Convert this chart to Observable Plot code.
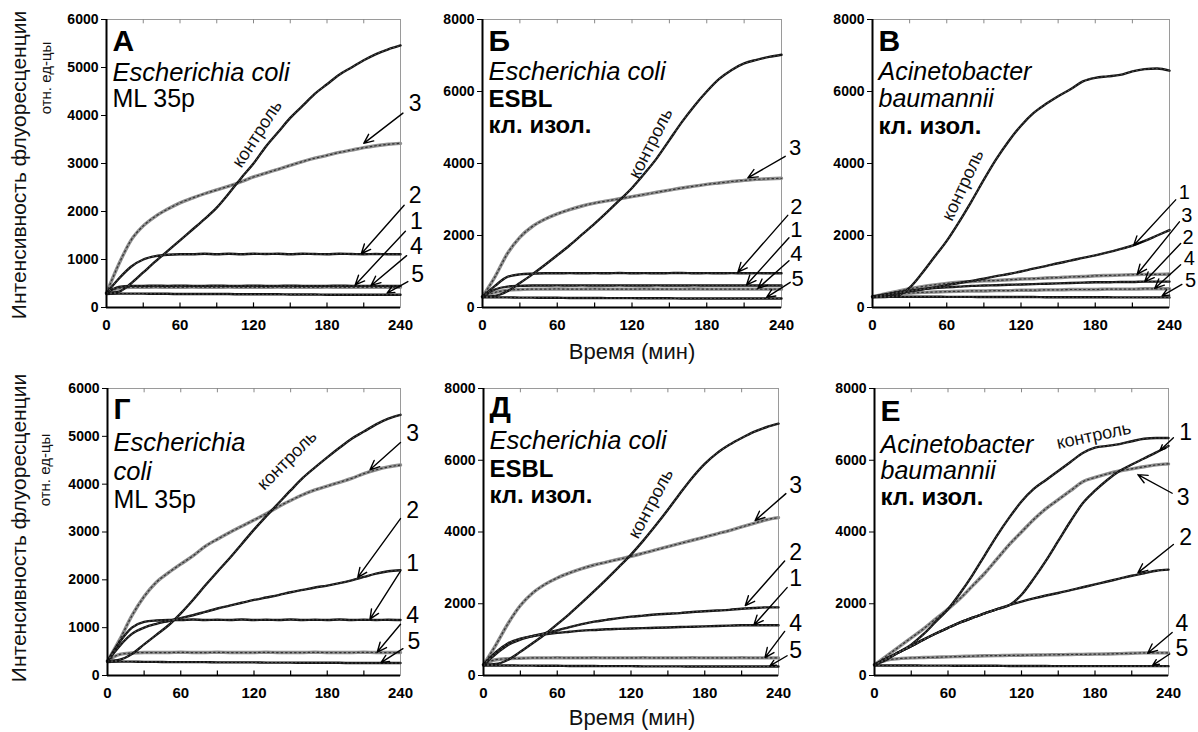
<!DOCTYPE html>
<html><head><meta charset="utf-8">
<script src="https://cdn.jsdelivr.net/npm/d3@7"></script>
<script src="https://cdn.jsdelivr.net/npm/@observablehq/plot@0.6"></script>
<style>
html,body{margin:0;padding:0;background:#fff;overflow:hidden;}
#root{position:relative;width:1198px;height:732px;overflow:hidden;font-family:"Liberation Sans",Arial,sans-serif;color:#111;}
.panel{position:absolute;}
.ytitle{position:absolute;transform:translate(-50%,-50%) rotate(-90deg);white-space:nowrap;}
.xtitle{position:absolute;transform:translate(-50%,-50%);white-space:nowrap;font-size:22px;}
</style></head><body><div id="root"></div>
<script>
// ---- data (time in minutes, fluorescence in rel. units) ----
const time = [0,10,20,30,40,50,60,70,80,90,100,110,120,130,140,150,160,170,180,190,200,210,220,230,240];

// Panel А
const ctrlA = [300,330,500,730,960,1180,1400,1620,1840,2080,2380,2700,3000,3350,3650,3950,4200,4450,4650,4850,5000,5150,5280,5380,5460];
const s1A = [300,430,450,450,455,450,455,450,450,455,450,450,455,450,450,455,450,450,450,455,450,450,450,450,450];
const s2A = [300,600,850,1000,1070,1100,1110,1110,1120,1110,1120,1110,1120,1115,1120,1110,1120,1115,1110,1120,1115,1110,1115,1110,1110];
const s3A = [300,900,1400,1700,1900,2050,2180,2280,2370,2450,2530,2620,2720,2800,2880,2960,3040,3110,3170,3230,3280,3330,3370,3400,3420];
const s4A = [300,400,420,420,425,420,420,425,420,420,425,420,420,420,425,420,420,420,425,420,420,420,420,420,420];
const s5A = [280,290,290,290,285,285,280,280,280,280,280,275,275,275,275,270,270,270,265,265,265,265,265,265,265];

// Panel Б
const ctrlB = [300,320,450,680,920,1180,1450,1730,2030,2330,2650,2980,3320,3720,4150,4650,5150,5600,6000,6350,6600,6780,6880,6960,7020];
const s1B = [300,500,580,600,610,610,615,610,615,610,610,615,610,610,615,610,610,615,610,610,610,610,610,610,610];
const s2B = [300,600,850,920,940,950,950,955,950,955,950,960,950,955,950,955,960,950,955,950,955,950,955,950,950];
const s3B = [300,850,1500,1950,2250,2450,2600,2720,2820,2900,2960,3020,3080,3140,3200,3260,3320,3370,3420,3460,3500,3530,3560,3575,3590];
const s4B = [300,420,480,500,510,510,515,510,510,515,510,510,510,515,510,510,510,515,510,510,510,510,510,510,510];
const s5B = [280,280,280,275,275,270,270,265,265,265,260,260,260,255,255,255,250,250,250,250,250,250,250,250,250];

// Panel В
const ctrlV = [300,300,330,550,950,1400,1850,2380,2950,3550,4120,4620,5050,5400,5650,5870,6060,6280,6380,6420,6460,6560,6620,6640,6580];
const s1V = [300,340,400,450,500,560,620,680,740,800,870,930,1000,1080,1150,1230,1300,1380,1450,1530,1620,1720,1850,2000,2150];
const s2V = [300,360,420,470,510,540,560,580,600,610,620,630,640,650,660,670,680,690,700,700,710,710,720,720,720];
const s3V = [300,380,450,520,580,630,670,700,720,740,750,770,790,800,820,830,850,860,880,890,900,910,920,920,930];
const s4V = [300,340,380,400,420,430,440,450,460,460,470,470,480,480,490,490,500,500,500,510,510,510,520,520,520];
const s5V = [280,290,300,300,300,300,295,295,295,290,290,290,290,290,285,285,285,285,285,285,280,280,280,280,280];

// Panel Г
const ctrlG = [300,330,450,650,850,1050,1300,1580,1880,2170,2450,2750,3050,3330,3600,3870,4130,4350,4560,4760,4950,5100,5250,5370,5450];
const s1G = [300,700,1000,1120,1150,1160,1160,1170,1160,1165,1160,1170,1160,1165,1160,1170,1160,1165,1160,1170,1160,1165,1160,1165,1160];
const s2G = [300,620,870,1000,1080,1140,1200,1260,1330,1400,1460,1520,1580,1630,1680,1740,1790,1840,1880,1930,1990,2060,2130,2180,2200];
const s3G = [300,750,1250,1650,1950,2150,2330,2500,2700,2850,2990,3120,3250,3380,3530,3660,3780,3880,3960,4040,4120,4220,4300,4360,4400];
const s4G = [300,440,470,480,480,480,485,480,480,485,480,480,480,485,480,480,480,485,480,480,480,485,480,480,480];
const s5G = [280,290,290,285,285,280,280,280,280,275,275,275,275,270,270,270,265,265,265,265,260,260,260,260,260];

// Panel Д
const ctrlD = [300,320,440,660,900,1150,1430,1720,2030,2350,2680,3020,3370,3760,4180,4620,5080,5520,5900,6200,6430,6620,6790,6920,7020];
const s1D = [300,650,900,1030,1100,1150,1190,1220,1250,1270,1290,1300,1310,1320,1330,1340,1350,1360,1370,1380,1390,1400,1400,1400,1400];
const s2D = [300,600,850,1000,1100,1180,1260,1350,1430,1500,1550,1600,1640,1670,1700,1720,1740,1770,1790,1810,1830,1860,1880,1900,1900];
const s3D = [300,850,1450,1950,2300,2540,2720,2860,2980,3080,3160,3240,3320,3410,3500,3590,3680,3770,3860,3950,4040,4140,4240,4340,4400];
const s4D = [300,440,470,480,490,490,495,490,490,495,490,490,490,495,490,490,490,495,490,490,490,495,490,490,490];
const s5D = [280,280,280,275,275,270,270,265,265,265,260,260,260,255,255,255,255,250,250,250,250,250,250,250,250];

// Panel Е
const ctrlE = [300,450,650,860,1150,1500,1850,2300,2800,3350,3900,4400,4850,5200,5450,5700,5950,6200,6350,6400,6450,6530,6600,6620,6620];
const s1E = [300,480,650,820,1000,1170,1330,1480,1610,1730,1850,1960,2250,2700,3200,3750,4300,4800,5150,5450,5700,5880,6050,6220,6400];
const s2E = [300,480,650,820,1000,1170,1330,1480,1610,1730,1850,1960,2060,2150,2230,2300,2380,2460,2540,2620,2700,2780,2850,2920,2950];
const s3E = [300,550,800,1050,1300,1580,1850,2150,2500,2850,3250,3650,4000,4350,4650,4900,5150,5400,5520,5620,5700,5760,5820,5870,5900];
const s4E = [300,430,470,490,500,510,520,530,540,550,555,560,565,570,575,580,585,590,595,600,610,620,630,630,630];
const s5E = [280,280,280,280,275,275,275,270,270,270,270,265,265,265,265,260,260,260,260,260,260,260,260,260,260];

// tick values
const xTickLabels = [0,60,120,180,240];
const xMinorTicks = [30,60,90,120,150,180,210];
const yTicks6 = [0,1000,2000,3000,4000,5000,6000];
const yTicks8 = [0,2000,4000,6000,8000];

// ---- annotations (labels / arrows, in data units) ----
const annA = [
  {n:"3", lx:252, ly:4250, x1:242, y1:4050, x2:210, y2:3420},
  {n:"2", lx:252, ly:2330, x1:243, y1:2130, x2:208, y2:1120},
  {n:"1", lx:253, ly:1780, x1:244, y1:1590, x2:203, y2:470},
  {n:"4", lx:253, ly:1260, x1:245, y1:1080, x2:216, y2:460},
  {n:"5", lx:254, ly:680,  x1:246, y1:540,  x2:229, y2:300}];
const annB = [
  {n:"3", lx:251, ly:4440, x1:243, y1:4200, x2:213, y2:3600},
  {n:"2", lx:252, ly:2800, x1:245, y1:2560, x2:205, y2:980},
  {n:"1", lx:252, ly:2150, x1:246, y1:1940, x2:212, y2:630},
  {n:"4", lx:252, ly:1480, x1:246, y1:1300, x2:221, y2:530},
  {n:"5", lx:253, ly:800,  x1:247, y1:700,  x2:228, y2:280}];
const annV = [
  {n:"1", lx:252, ly:3180, x1:245, y1:2990, x2:211, y2:1720},
  {n:"3", lx:254, ly:2560, x1:248, y1:2380, x2:214, y2:930},
  {n:"2", lx:255, ly:1950, x1:249, y1:1780, x2:220, y2:720},
  {n:"4", lx:256, ly:1350, x1:249, y1:1190, x2:228, y2:530},
  {n:"5", lx:257, ly:750,  x1:250, y1:640,  x2:234, y2:320}];
const annG = [
  {n:"3", lx:250, ly:5060, x1:240, y1:4870, x2:215, y2:4300},
  {n:"2", lx:250, ly:3450, x1:240, y1:3280, x2:205, y2:2050},
  {n:"1", lx:250, ly:2340, x1:240, y1:2180, x2:215, y2:1180},
  {n:"4", lx:250, ly:1250, x1:240, y1:1070, x2:221, y2:490},
  {n:"5", lx:251, ly:700,  x1:242, y1:560,  x2:224, y2:270}];
const annD = [
  {n:"3", lx:254, ly:5290, x1:246, y1:5070, x2:221, y2:4320},
  {n:"2", lx:254, ly:3430, x1:245, y1:3190, x2:213, y2:1950},
  {n:"1", lx:254, ly:2700, x1:247, y1:2450, x2:220, y2:1410},
  {n:"4", lx:254, ly:1440, x1:245, y1:1230, x2:229, y2:500},
  {n:"5", lx:254, ly:680,  x1:247, y1:550,  x2:233, y2:270}];
const annE = [
  {n:"1", lx:254, ly:6770, x1:244, y1:6630, x2:233, y2:6270},
  {n:"3", lx:252, ly:4960, x1:243, y1:5080, x2:215, y2:5600},
  {n:"2", lx:254, ly:3840, x1:244, y1:3650, x2:215, y2:2860},
  {n:"4", lx:251, ly:1450, x1:243, y1:1200, x2:223, y2:620},
  {n:"5", lx:251, ly:760,  x1:241, y1:600,  x2:227, y2:280}];

// ---- panel layout ----
const panels = [
  {frame:[106,400,19,307], yMax:6000, yTicks:yTicks6, numSize:23,
   series:{c:ctrlA,"1":s1A,"2":s2A,"3":s3A,"4":s4A,"5":s5A}, ann:annA,
   ctrl:{t:123, v:3620, rot:-57},
   title:[{t:"А",dy:31,size:30,w:"bold",s:"normal"},{t:"Escherichia coli",dy:61,size:25.5,w:"normal",s:"italic"},{t:"ML 35р",dy:87,size:25,w:"normal",s:"normal"}]},
  {frame:[482,781,19,307], yMax:8000, yTicks:yTicks8, numSize:22,
   series:{c:ctrlB,"1":s1B,"2":s2B,"3":s3B,"4":s4B,"5":s5B}, ann:annB,
   ctrl:{t:135, v:4560, rot:-63},
   title:[{t:"Б",dy:31,size:30,w:"bold",s:"normal"},{t:"Escherichia coli",dy:60,size:25.5,w:"normal",s:"italic"},{t:"ESBL",dy:87,size:24,w:"bold",s:"normal"},{t:"кл. изол.",dy:113,size:24,w:"bold",s:"normal"}]},
  {frame:[872,1169,19,307], yMax:8000, yTicks:yTicks8, numSize:20,
   series:{c:ctrlV,"1":s1V,"2":s2V,"3":s3V,"4":s4V,"5":s5V}, ann:annV,
   ctrl:{t:73, v:3400, rot:-65},
   title:[{t:"В",dy:31,size:30,w:"bold",s:"normal"},{t:"Acinetobacter",dy:60,size:25,w:"normal",s:"italic"},{t:"baumannii",dy:87,size:25,w:"normal",s:"italic"},{t:"кл. изол.",dy:114,size:24,w:"bold",s:"normal"}]},
  {frame:[107,400,388,675], yMax:6000, yTicks:yTicks6, numSize:23,
   series:{c:ctrlG,"1":s1G,"2":s2G,"3":s3G,"4":s4G,"5":s5G}, ann:annG,
   ctrl:{t:147, v:4500, rot:-45},
   title:[{t:"Г",dy:30,size:30,w:"bold",s:"normal"},{t:"Escherichia",dy:62,size:25.5,w:"normal",s:"italic"},{t:"coli",dy:91,size:25.5,w:"normal",s:"italic"},{t:"ML 35р",dy:119,size:25,w:"normal",s:"normal"}]},
  {frame:[483,778,388,675], yMax:8000, yTicks:yTicks8, numSize:23,
   series:{c:ctrlD,"1":s1D,"2":s2D,"3":s3D,"4":s4D,"5":s5D}, ann:annD,
   ctrl:{t:136, v:4790, rot:-62},
   title:[{t:"Д",dy:28,size:30,w:"bold",s:"normal"},{t:"Escherichia coli",dy:60,size:25.5,w:"normal",s:"italic"},{t:"ESBL",dy:88,size:24,w:"bold",s:"normal"},{t:"кл. изол.",dy:114,size:24,w:"bold",s:"normal"}]},
  {frame:[874,1168,388,675], yMax:8000, yTicks:yTicks8, numSize:23,
   series:{c:ctrlE,"1":s1E,"2":s2E,"3":s3E,"4":s4E,"5":s5E}, ann:annE,
   ctrl:{t:179, v:6690, rot:-12},
   title:[{t:"Е",dy:32,size:30,w:"bold",s:"normal"},{t:"Acinetobacter",dy:64,size:25,w:"normal",s:"italic"},{t:"baumannii",dy:90,size:25,w:"normal",s:"italic"},{t:"кл. изол.",dy:116,size:24,w:"bold",s:"normal"}]}
];

const FONT = '"Liberation Sans", Arial, sans-serif';
const greySet = new Set(["3","4"]);
const root = document.getElementById("root");
const mL = 62, mR = 42, mT = 20, mB = 36;

for (const p of panels) {
  const [x0,x1,y0,y1] = p.frame;
  const rows = Object.entries(p.series).flatMap(([s, vals]) => vals.map((v,i) => ({t: time[i], v, s})));
  const grey = rows.filter(d => greySet.has(d.s));
  const black = rows.filter(d => !greySet.has(d.s));
  const marks = [
    Plot.frame({stroke:"#9a9a9a", strokeWidth:1}),
    Plot.ruleX(xMinorTicks, {y1:0, y2:p.yMax*0.016, stroke:"#000", strokeWidth:1.2}),
    Plot.ruleX(xMinorTicks, {y1:p.yMax, y2:p.yMax*0.985, stroke:"#888", strokeWidth:1}),
    Plot.line(grey, {x:"t", y:"v", z:"s", stroke:"#8f8f8f", strokeWidth:3.4, curve:"monotone-x"}),
    Plot.line(grey, {x:"t", y:"v", z:"s", stroke:"#333", strokeWidth:1.2, strokeDasharray:"1.5,3", curve:"monotone-x"}),
    Plot.line(black, {x:"t", y:"v", z:"s", stroke:"#141414", strokeWidth:2.4, curve:"monotone-x"}),
    Plot.line(black, {x:"t", y:"v", z:"s", stroke:"#555", strokeWidth:1, strokeDasharray:"1,3", curve:"monotone-x"}),
    Plot.ruleX([0], {stroke:"#000", strokeWidth:2}),
    Plot.ruleY([0], {stroke:"#000", strokeWidth:2}),
    Plot.axisY({ticks:p.yTicks, tickFormat:"d", tickSize:5, tickPadding:3, fontSize:14, fontWeight:"bold", label:null}),
    Plot.axisX({ticks:xTickLabels, tickFormat:"d", tickSize:0, tickPadding:12, fontSize:15, fontWeight:"bold", label:null}),
    Plot.text([p.ctrl], {x:"t", y:"v", text:() => "контроль", rotate:p.ctrl.rot, fontSize:18, fill:"#111"}),
    Plot.arrow(p.ann, {x1:"x1", y1:"y1", x2:"x2", y2:"y2", stroke:"#000", strokeWidth:1.4, headLength:11, headAngle:48}),
    Plot.text(p.ann, {x:"lx", y:"ly", text:"n", fontSize:p.numSize, fill:"#000"})
  ];
  for (const line of p.title) {
    marks.push(Plot.text([line], {frameAnchor:"top-left", dx:6, dy:line.dy, lineAnchor:"bottom", textAnchor:"start",
      text:"t", fontSize:line.size, fontWeight:line.w, fontStyle:line.s, fill:"#000"}));
  }
  const chart = Plot.plot({
    width: (x1-x0)+mL+mR, height: (y1-y0)+mT+mB,
    marginLeft:mL, marginRight:mR, marginTop:mT, marginBottom:mB,
    x:{domain:[0,240]}, y:{domain:[0,p.yMax]},
    style:{background:"transparent", fontFamily:FONT, color:"#000", overflow:"visible"},
    marks
  });
  chart.classList.add("panel");
  chart.style.left = (x0-mL)+"px";
  chart.style.top = (y0-mT)+"px";
  chart.style.maxWidth = "none";
  root.appendChild(chart);
}

// axis titles
const yTitles = [
  {text:"Интенсивность флуоресценции", x:19, y:165, size:21},
  {text:"отн. ед-цы", x:45, y:78, size:15},
  {text:"Интенсивность флуоресценции", x:19, y:528, size:21},
  {text:"отн. ед-цы", x:44, y:470, size:15}
];
for (const t of yTitles) {
  const d = document.createElement("div");
  d.className = "ytitle"; d.textContent = t.text;
  d.style.left = t.x+"px"; d.style.top = t.y+"px"; d.style.fontSize = t.size+"px";
  root.appendChild(d);
}
const xTitles = [{text:"Время (мин)", x:632, y:352},{text:"Время (мин)", x:632, y:718}];
for (const t of xTitles) {
  const d = document.createElement("div");
  d.className = "xtitle"; d.textContent = t.text;
  d.style.left = t.x+"px"; d.style.top = t.y+"px";
  root.appendChild(d);
}
</script></body></html>
